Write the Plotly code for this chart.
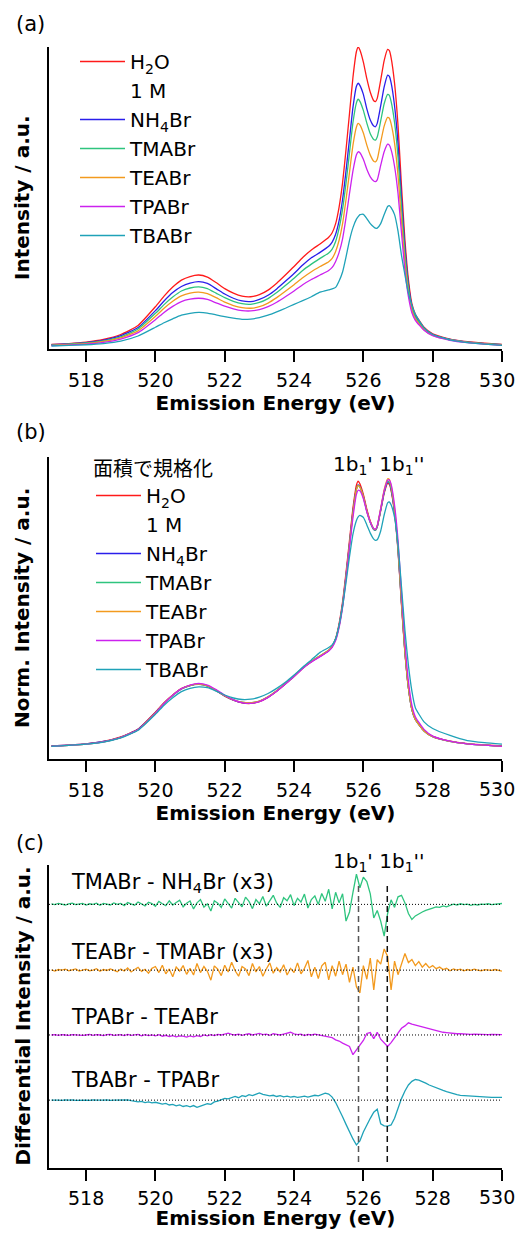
import plotly.graph_objects as go

# ---------------- data ----------------
energy_ab = [517.0, 517.5, 518.0, 518.5, 519.0, 519.5, 520.0, 520.25, 520.5, 520.75,
             521.0, 521.25, 521.5, 521.75, 522.0, 522.25, 522.5, 522.75, 523.0, 523.25,
             523.5, 523.75, 524.0, 524.25, 524.5, 524.75, 525.0, 525.1, 525.2, 525.3,
             525.4, 525.5, 525.6, 525.7, 525.8, 525.85, 525.9, 526.0, 526.1, 526.2,
             526.3, 526.35, 526.4, 526.5, 526.6, 526.7, 526.75, 526.8, 526.9, 527.0,
             527.1, 527.2, 527.3, 527.4, 527.5, 527.75, 528.0, 528.5, 529.0, 529.5,
             530.0]

# (a) raw intensities
h2o_a = [1.5, 1.8, 2.3, 3.2, 4.8, 7.8, 14.0, 17.5, 20.5, 22.8,
         24.0, 24.5, 23.8, 22.0, 20.0, 18.5, 17.5, 17.3, 18.0, 19.5,
         21.8, 24.5, 27.3, 30.3, 32.8, 34.8, 37.0, 38.5, 41.5, 47.0,
         55.0, 66.0, 78.0, 90.0, 98.5, 100.0, 99.0, 95.0, 89.5, 85.0,
         82.2, 81.9, 83.0, 89.0, 95.5, 99.2, 98.8, 96.5, 88.0, 74.0,
         54.0, 36.0, 23.0, 15.0, 11.5, 7.2, 5.0, 3.3, 2.4, 1.9,
         1.5]
nh4br_a = [1.4, 1.7, 2.1, 2.9, 4.4, 7.1, 12.7, 15.9, 18.7, 20.7,
           21.8, 22.3, 21.7, 20.0, 18.2, 16.8, 15.9, 15.7, 16.4, 17.8,
           19.9, 22.4, 25.0, 27.8, 30.2, 32.0, 34.0, 35.4, 38.0, 42.5,
           49.5, 59.0, 69.5, 80.0, 87.0, 88.0, 87.3, 84.3, 79.5, 75.8,
           73.8, 73.6, 74.7, 80.5, 86.8, 90.7, 90.3, 88.2, 80.5, 68.0,
           50.0, 33.5, 21.5, 14.2, 10.9, 6.9, 4.8, 3.2, 2.3, 1.8,
           1.4]
tmabr_a = [1.3, 1.6, 2.0, 2.7, 4.0, 6.6, 11.8, 14.7, 17.2, 19.2,
           20.2, 20.6, 20.0, 18.5, 17.0, 15.8, 15.0, 14.8, 15.4, 16.7,
           18.7, 21.0, 23.4, 26.0, 28.1, 30.0, 31.8, 33.1, 35.6, 40.0,
           46.3, 55.0, 65.0, 75.0, 81.5, 82.7, 82.0, 79.0, 74.8, 71.3,
           69.4, 69.2, 70.2, 75.5, 81.2, 84.3, 84.0, 82.0, 75.0, 63.5,
           47.0, 31.5, 20.5, 13.7, 10.5, 6.7, 4.7, 3.1, 2.3, 1.8,
           1.4]
teabr_a = [1.2, 1.5, 1.8, 2.5, 3.7, 6.0, 10.8, 13.5, 15.8, 17.6,
           18.5, 18.8, 18.3, 17.0, 15.5, 14.4, 13.7, 13.5, 14.0, 15.2,
           17.0, 19.1, 21.3, 23.6, 25.6, 27.3, 28.9, 30.0, 32.3, 36.0,
           41.5, 49.5, 58.5, 67.5, 73.5, 74.7, 74.2, 71.5, 67.5, 64.2,
           62.2, 62.0, 62.8, 68.5, 73.8, 76.7, 76.4, 74.6, 68.2, 57.5,
           42.5, 28.5, 18.8, 12.8, 10.0, 6.4, 4.5, 3.0, 2.2, 1.7,
           1.3]
tpabr_a = [1.1, 1.3, 1.6, 2.2, 3.3, 5.4, 9.7, 12.1, 14.1, 15.7,
           16.5, 16.8, 16.4, 15.3, 14.2, 13.3, 12.7, 12.6, 13.0, 14.0,
           15.5, 17.3, 19.2, 21.3, 23.0, 24.5, 26.0, 27.0, 29.0, 32.0,
           36.5, 43.5, 51.5, 59.0, 64.3, 65.3, 65.0, 62.8, 59.5, 57.0,
           55.6, 55.4, 56.0, 60.8, 65.3, 67.8, 67.5, 66.0, 60.5, 51.5,
           38.5, 26.0, 17.3, 12.0, 9.5, 6.2, 4.4, 2.9, 2.1, 1.6,
           1.2]
tbabr_a = [1.0, 1.2, 1.4, 1.8, 2.6, 4.3, 7.2, 8.7, 10.0, 11.2,
           11.8, 12.1, 11.9, 11.3, 10.7, 10.2, 9.8, 9.9, 10.4, 11.2,
           12.3, 13.5, 14.8, 16.0, 17.3, 18.8, 19.6, 19.9, 20.4, 22.5,
           25.5, 30.5, 36.0, 40.2, 43.0, 43.8, 44.5, 44.6, 43.2, 41.5,
           40.4, 40.0, 40.0, 41.5, 44.5, 47.2, 47.5, 46.8, 44.5, 39.0,
           31.0, 24.5, 18.5, 14.5, 11.5, 7.0, 4.8, 3.0, 2.1, 1.6,
           1.2]

# (b) area-normalised intensities
h2o_b = [4.3, 4.6, 5.0, 5.8, 7.3, 9.9, 15.5, 18.6, 21.2, 23.3,
         24.4, 24.8, 24.2, 22.6, 20.8, 19.5, 18.6, 18.4, 19.0, 20.4,
         22.4, 24.8, 27.3, 30.0, 32.2, 34.0, 35.9, 37.3, 39.9, 44.8,
         52.0, 61.7, 72.4, 83.1, 90.7, 92.0, 91.1, 87.6, 82.7, 78.7,
         76.2, 75.9, 76.9, 82.2, 88.0, 91.3, 90.9, 88.9, 81.3, 68.9,
         51.1, 35.0, 23.5, 16.4, 13.2, 9.4, 7.5, 5.9, 5.1, 4.7,
         4.3]
nh4br_b = [4.3, 4.6, 5.0, 5.8, 7.2, 9.8, 15.3, 18.5, 21.1, 23.2,
           24.3, 24.8, 24.2, 22.7, 20.9, 19.5, 18.7, 18.5, 19.1, 20.5,
           22.5, 24.9, 27.4, 30.1, 32.3, 34.0, 35.8, 37.2, 39.7, 44.3,
           51.3, 60.8, 71.3, 82.0, 89.5, 90.8, 90.2, 87.0, 82.2, 78.4,
           76.0, 75.8, 76.9, 82.5, 88.4, 91.8, 91.4, 89.4, 81.8, 69.4,
           51.6, 35.3, 23.6, 16.4, 13.1, 9.3, 7.4, 5.8, 5.0, 4.6,
           4.2]
tmabr_b = [4.2, 4.5, 4.9, 5.7, 7.1, 9.7, 15.2, 18.4, 21.0, 23.2,
           24.3, 24.7, 24.2, 22.7, 21.0, 19.6, 18.8, 18.6, 19.2, 20.6,
           22.6, 25.0, 27.5, 30.2, 32.4, 34.2, 36.0, 37.4, 39.8, 44.2,
           51.0, 60.5, 71.0, 81.5, 89.3, 90.6, 90.0, 86.8, 82.0, 78.3,
           76.0, 75.8, 76.8, 82.4, 88.4, 91.9, 91.6, 89.6, 82.0, 69.6,
           51.8, 35.4, 23.6, 16.4, 13.1, 9.3, 7.4, 5.8, 5.0, 4.6,
           4.2]
teabr_b = [4.2, 4.5, 4.9, 5.7, 7.1, 9.7, 15.2, 18.5, 21.2, 23.3,
           24.4, 24.8, 24.3, 22.8, 21.0, 19.6, 18.8, 18.6, 19.2, 20.6,
           22.6, 25.0, 27.5, 30.1, 32.3, 34.2, 36.0, 37.3, 39.6, 44.0,
           50.8, 60.3, 70.8, 81.4, 89.2, 90.5, 90.0, 86.9, 82.2, 78.6,
           76.2, 76.0, 77.2, 83.0, 89.2, 92.8, 92.6, 90.5, 82.8, 70.2,
           52.2, 35.6, 23.7, 16.5, 13.1, 9.3, 7.4, 5.8, 5.0, 4.6,
           4.2]
tpabr_b = [4.2, 4.5, 4.9, 5.7, 7.1, 9.7, 15.1, 18.4, 21.1, 23.3,
           24.5, 25.0, 24.5, 23.0, 21.1, 19.6, 18.7, 18.4, 19.0, 20.4,
           22.4, 24.8, 27.3, 30.0, 32.1, 33.9, 35.8, 37.0, 39.2, 43.5,
           50.2, 59.6, 70.0, 80.0, 87.6, 89.0, 88.8, 86.2, 81.8, 78.5,
           76.3, 76.1, 77.2, 82.8, 88.8, 92.3, 92.4, 91.0, 84.0, 72.5,
           55.0, 38.5, 25.8, 17.8, 14.0, 9.8, 7.6, 5.9, 5.0, 4.6,
           4.2]
tbabr_b = [4.2, 4.5, 4.9, 5.6, 7.0, 9.5, 14.8, 17.8, 20.3, 22.3,
           23.4, 23.9, 23.6, 22.5, 21.2, 20.2, 19.7, 19.8, 20.5, 21.7,
           23.4, 25.4, 27.8, 30.4, 32.8, 35.3, 36.9, 37.8, 39.8, 44.2,
           50.5, 58.5, 67.0, 74.5, 79.0, 80.2, 80.7, 80.0, 77.5, 74.8,
           72.8, 72.4, 72.6, 75.5, 80.8, 84.8, 85.1, 84.2, 80.0, 71.0,
           57.0, 42.5, 31.0, 22.5, 17.0, 12.3, 10.1, 7.8, 6.1, 5.4,
           4.9]

# (c) difference spectra, 517.0 ... 530.0 eV in 0.1 eV steps
energy_c = [round(517.0 + 0.1 * i, 1) for i in range(131)]
diff_tma_nh4 = [0.2, -0.1, 0.3, 0.1, -0.2, 0.2, 0.4, -0.1, 0.1, 0.3,
                -0.2, 0.2, 0.0, 0.4, -0.3, 0.3, 0.1, -0.2, 0.5, 0.0,
                0.3, -0.4, 0.6, 0.1, -0.3, 0.8, 0.2, -0.5, 0.7, 0.3,
                -0.6, 1.0, 0.2, -0.4, 1.2, -0.2, 0.6, 1.4, -0.8, 0.4,
                1.1, -1.5, 0.5, 1.6, -0.9, 0.2, -2.2, 1.2, 0.4, -1.0,
                1.8, 0.3, -1.2, 2.0, 0.6, -0.8, 2.4, 1.0, -1.4, 1.6,
                0.2, 2.6, -0.6, 1.4, 3.0, 0.4, -1.0, 2.2, 1.2, 3.2,
                -0.4, 2.0, 0.8, 3.4, -1.2, 1.6, 2.8, 0.0, 3.6, 1.0,
                5.0, -1.5, 4.0, 0.5, 3.5, -5.5, -2.5, 4.0, 10.0, 5.5,
                9.0, 7.5, 3.5, -4.5, -2.0, -5.5, -10.5, -3.0, 1.5, -1.0,
                2.5, 3.0, 0.5, -3.0, -5.0, -3.8, -3.0, -2.5, -2.0, -1.5,
                -1.2, -0.8, -1.0, -0.5, -0.8, -0.3, 0.1, -0.2, 0.2, -0.1,
                0.1, -0.3, 0.0, -0.2, 0.1, 0.0, 0.2, -0.1, 0.1, 0.2,
                0.3]
diff_tea_tma = [0.1, -0.3, 0.2, 0.0, 0.3, -0.2, 0.1, 0.4, -0.3, 0.1,
                0.3, -0.2, 0.0, 0.5, -0.4, 0.2, -0.1, 0.4, 0.0, -0.5,
                0.4, -0.3, 0.7, -0.6, 0.2, 0.9, -0.4, 0.3, -1.0, 0.6,
                1.2, -0.8, 1.6, -1.2, 0.4, -2.2, 1.0, -0.3, 1.5, -1.4,
                0.6, -1.6, 2.2, -0.8, 1.2, -0.4, -3.3, 1.4, 0.3, -1.8,
                1.6, -0.6, 2.6, -0.2, -2.0, 1.2, 0.4, -1.8, 2.2, -0.6,
                1.2, -2.0, 0.4, 2.4, -1.0, 0.8, -0.6, 1.8, -1.6, 0.6,
                -0.8, 2.4, -1.2, 0.6, 3.2, -2.2, 1.0, -2.8, 1.4, 2.6,
                -3.2, 1.5, -2.0, 3.0, -1.5, 2.0, -4.0, 1.0, -5.5, -7.5,
                1.5, -3.0, 4.0, -6.5, 3.5, 2.0, 7.0, 4.5, -6.5, 3.0,
                -1.5, 2.0, 5.5, 2.5, 3.5, 1.5, 2.8, 1.0, 2.2, 0.8,
                1.5, 0.5, 1.0, 0.2, 0.6, -0.2, 0.4, 0.0, 0.3, -0.2,
                0.2, -0.1, 0.3, 0.0, -0.2, 0.2, 0.1, -0.1, 0.2, 0.0,
                -0.3]
diff_tpa_tea = [0.0, 0.1, -0.1, 0.1, 0.0, -0.1, 0.1, 0.0, 0.1, -0.1,
                0.0, 0.2, -0.1, 0.1, 0.0, -0.2, 0.1, 0.2, -0.1, 0.0,
                0.1, -0.2, 0.2, -0.1, 0.0, 0.2, -0.3, 0.1, -0.2, 0.0,
                -0.3, 0.1, -0.4, -0.1, -0.5, -0.2, -0.6, -0.3, -0.4, -0.7,
                -0.3, -0.6, -0.2, -0.5, 0.0, -0.3, 0.1, -0.2, 0.2, 0.0,
                0.3, 0.6, 0.2, 0.0, 0.3, -0.1, 0.2, 0.4, 0.0, 0.2,
                0.5, 0.1, 0.3, -0.1, 0.4, 0.2, 0.0, 0.3, 0.5, 0.9,
                0.4, 0.1, 0.3, -0.2, 0.2, 0.0, 0.3, 0.1, -0.1, -0.3,
                -0.5, -0.9, -1.6, -2.0, -2.7, -3.2, -3.8, -6.5, -5.0, -3.5,
                -1.8, 0.5, 0.8, -1.2, 0.9, -1.4, -2.5, -3.8, -2.5, -0.8,
                0.8, 2.2, 3.0, 4.0, 3.6, 3.3, 3.0, 2.6, 2.2, 2.0,
                1.6, 1.4, 1.1, 0.9, 0.8, 0.6, 0.5, 0.4, 0.4, 0.3,
                0.3, 0.2, 0.3, 0.2, 0.1, 0.2, 0.1, 0.2, 0.1, 0.1,
                0.1]
diff_tba_tpa = [0.0, 0.1, 0.0, -0.1, 0.1, 0.0, 0.1, -0.1, 0.0, 0.1,
                0.0, -0.1, 0.1, 0.0, -0.1, 0.0, 0.1, -0.1, 0.0, 0.0,
                -0.1, 0.0, 0.1, -0.2, -0.3, -0.6, -0.4, -0.8, -0.6, -0.9,
                -0.7, -1.0, -1.3, -1.1, -1.6, -1.4, -1.9, -1.6, -2.1, -1.8,
                -2.2, -1.8, -2.4, -2.0, -1.6, -1.2, -1.4, -0.6, -0.3, 0.2,
                0.6, 0.4, 0.9, 1.2, 0.8, 1.5, 1.2, 1.8, 1.5, 2.0,
                2.4, 1.9, 1.7, 1.4, 1.6, 1.2, 1.5, 1.1, 1.3, 1.0,
                1.2, 0.9, 1.1, 1.3, 1.0, 1.4, 1.6, 1.4, 1.9, 2.3,
                2.0, 1.0, -0.8, -3.0, -5.5, -8.0, -10.5, -12.8, -14.8, -13.5,
                -10.5, -8.0, -6.0, -4.0, -3.0, -7.8, -8.5, -8.6, -8.2, -6.0,
                -2.5, 0.5, 3.0, 5.0, 6.2, 6.8, 6.6, 6.2, 5.6, 5.0,
                4.5, 4.0, 3.6, 3.2, 2.8, 2.4, 2.1, 1.8, 1.6, 1.5,
                1.4, 1.3, 1.2, 1.1, 1.1, 1.0, 1.0, 0.9, 0.9, 0.9,
                0.9]

series_names = ["H<sub>2</sub>O", "NH<sub>4</sub>Br", "TMABr", "TEABr", "TPABr", "TBABr"]
diff_labels = ["TMABr - NH<sub>4</sub>Br (x3)", "TEABr - TMABr (x3)",
               "TPABr - TEABr", "TBABr - TPABr"]
peak_positions = [525.86, 526.69]
xticks = [518, 520, 522, 524, 526, 528, 530]
xtick_labels = ["518", "520", "522", "524", "526", "528", ""]   # 530 is drawn at the edge
last_tick_label = "530"

# ---------------- style ----------------
colors = ["#FF1A1A", "#2A1EEB", "#2EC47E", "#F39A1E", "#CC22EE", "#1FA2B8"]
diff_colors = [colors[2], colors[3], colors[4], colors[5]]
diff_offsets = [87.0, 65.3, 43.9, 22.4]
FONT = "DejaVu Sans"
LW = 1.3

# The page body keeps its default 8 px margin; the figure is sized so that the
# page is exactly 523 x 1238 and nothing overflows it.
BODY = 8
W, H = 523 - 2 * BODY, 1238 - 2 * BODY
ML, MR, MT, MB = 49 - BODY, 21 - BODY, 47 - BODY, 70 - BODY
PW, PH = W - ML - MR, H - MT - MB
X0, Y1 = ML + BODY, MT + BODY + PH   # page-pixel left / bottom of plot area


def px(x):
    return (x - X0) / PW


def py(y):
    return (Y1 - y) / PH


fig = go.Figure()

spectra_a = [h2o_a, nh4br_a, tmabr_a, teabr_a, tpabr_a, tbabr_a]
spectra_b = [h2o_b, nh4br_b, tmabr_b, teabr_b, tpabr_b, tbabr_b]

for panel, spectra, lg, xa, ya in [("a", spectra_a, "legend", "x", "y"),
                                    ("b", spectra_b, "legend2", "x2", "y2")]:
    for i, (name, vals) in enumerate(zip(series_names, spectra)):
        fig.add_trace(go.Scatter(
            x=energy_ab, y=vals, name=name, mode="lines",
            line=dict(color=colors[i], width=LW, shape="spline", smoothing=0.5),
            xaxis=xa, yaxis=ya, legend=lg,
            legendrank=(1 if i == 0 else 3 + i), hoverinfo="skip"))
    fig.add_trace(go.Scatter(
        x=[None], y=[None], name="1 M", mode="lines",
        line=dict(color="rgba(0,0,0,0)", width=LW),
        xaxis=xa, yaxis=ya, legend=lg, legendrank=2, hoverinfo="skip"))

diffs = [diff_tma_nh4, diff_tea_tma, diff_tpa_tea, diff_tba_tpa]
for vals, c, off, lab in zip(diffs, diff_colors, diff_offsets, diff_labels):
    fig.add_trace(go.Scatter(
        x=energy_c, y=[v + off for v in vals], mode="lines", name=lab,
        line=dict(color=c, width=LW), xaxis="x3", yaxis="y3",
        showlegend=False, hoverinfo="skip"))

axis_common = dict(showline=True, linewidth=2, linecolor="black", mirror=False,
                   showgrid=False, zeroline=False)
title_font = dict(family=FONT, size=20, color="black", weight="bold")
xaxis_common = dict(axis_common, range=[516.93, 530.0], tickvals=xticks, ticktext=xtick_labels,
                    ticks="outside", ticklen=11, tickwidth=2, tickcolor="black",
                    tickfont=dict(family=FONT, size=19, color="black"),
                    ticklabelstandoff=2,
                    title=dict(text="Emission Energy (eV)", standoff=6, font=title_font))
yaxis_common = dict(axis_common, range=[0, 100], showticklabels=False, ticks="")

dom_a = [py(349), 1.0]
dom_b = [py(759), py(457)]
dom_c = [0.0, py(865)]

legend_font = dict(family=FONT, size=20, color="black")
fig.update_layout(
    width=W, height=H,
    margin=dict(l=ML, r=MR, t=MT, b=MB, autoexpand=False),
    paper_bgcolor="white", plot_bgcolor="white",
    font=dict(family=FONT, color="black"),
    xaxis=dict(xaxis_common, anchor="y", domain=[0, 1]),
    yaxis=dict(yaxis_common, anchor="x", domain=dom_a),
    xaxis2=dict(xaxis_common, anchor="y2", domain=[0, 1]),
    yaxis2=dict(yaxis_common, anchor="x2", domain=dom_b),
    xaxis3=dict(xaxis_common, anchor="y3", domain=[0, 1], ticklabelstandoff=1,
                title=dict(text="Emission Energy (eV)", standoff=0, font=title_font)),
    yaxis3=dict(yaxis_common, anchor="x3", domain=dom_c),
    legend=dict(x=px(75), y=py(42), xanchor="left", yanchor="top",
                bgcolor="rgba(0,0,0,0)", itemwidth=45, font=legend_font),
    legend2=dict(x=px(91), y=py(450), xanchor="left", yanchor="top",
                 bgcolor="rgba(0,0,0,0)", itemwidth=45, font=legend_font,
                 title=dict(text="面積で規格化",
                            font=dict(family="Noto Sans CJK JP", size=20, color="black"))),
    showlegend=True,
)

# baselines and peak markers in (c)
for off in diff_offsets:
    fig.add_shape(type="line", xref="x3 domain", yref="y3", x0=0, x1=1, y0=off, y1=off,
                  line=dict(color="black", width=1, dash="1px,2px"))
fig.add_shape(type="line", xref="x3", yref="y3", x0=peak_positions[0], x1=peak_positions[0],
              y0=2.0, y1=93.4, line=dict(color="#555555", width=1.5, dash="6px,4px"))
fig.add_shape(type="line", xref="x3", yref="y3", x0=peak_positions[1], x1=peak_positions[1],
              y0=2.0, y1=94.0, line=dict(color="#111111", width=1.5, dash="6px,4px"))

ann = []
# last tick label, kept inside the page edge
for yc in [380, 789, 1197]:
    ann.append(dict(text=last_tick_label, xref="paper", yref="paper", x=px(516), y=py(yc),
                    xanchor="right", yanchor="middle", showarrow=False, borderpad=0,
                    font=dict(family=FONT, size=19, color="black")))
for lab, yc in zip(diff_labels, [883, 952, 1017, 1080]):
    ann.append(dict(text=lab, xref="paper", yref="paper", x=px(69), y=py(yc),
                    xanchor="left", yanchor="middle", showarrow=False,
                    font=dict(family=FONT, size=21, color="black")))
for lab, yc in [("(a)", 24), ("(b)", 432), ("(c)", 843)]:
    ann.append(dict(text=lab, xref="paper", yref="paper", x=px(14), y=py(yc),
                    xanchor="left", yanchor="middle", showarrow=False,
                    font=dict(family=FONT, size=21, color="black")))
for yc in [465, 862]:
    ann.append(dict(text="1b<sub>1</sub>' 1b<sub>1</sub>''", xref="paper", yref="paper",
                    x=px(331), y=py(yc), xanchor="left", yanchor="middle", showarrow=False,
                    font=dict(family=FONT, size=20, color="black")))
for lab, yr in [("Intensity / a.u.", "y domain"), ("Norm. Intensity / a.u.", "y2 domain"),
                ("Differential Intensity / a.u.", "y3 domain")]:
    ann.append(dict(text=lab, xref="paper", yref=yr, x=px(22), y=0.5, textangle=-90,
                    xanchor="center", yanchor="middle", showarrow=False,
                    font=dict(family=FONT, size=20, color="black", weight="bold")))
fig.update_layout(annotations=ann)

fig.write_html("out.html", config={"displayModeBar": False})
